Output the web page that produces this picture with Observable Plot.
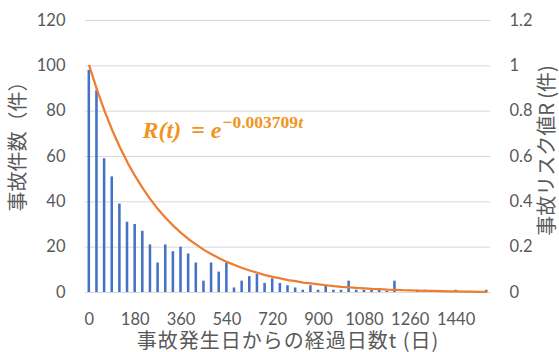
<!DOCTYPE html>
<html>
<head>
<meta charset="utf-8">
<script src="https://cdn.jsdelivr.net/npm/d3@7"></script>
<script src="https://cdn.jsdelivr.net/npm/@observablehq/plot@0.6"></script>
<style>
  html, body { margin: 0; padding: 0; background: #fff; }
  #chart { width: 559px; height: 352px; }
</style>
</head>
<body>
<div id="chart"></div>
<script>
// Elapsed days since the accident (category axis, every 30 days)
const days = [0,30,60,90,120,150,180,210,240,270,300,330,360,390,420,450,480,510,540,570,
  600,630,660,690,720,750,780,810,840,870,900,930,960,990,1020,1050,1080,1110,1140,1170,
  1200,1230,1260,1290,1320,1350,1380,1410,1440,1470,1500,1530,1560];
// Number of accidents (件) per bin
const counts = [98,89,59,51,39,31,30,27,21,13,21,18,20,17,13,5,13,9,13,2,
  5,7,8,4,6,4,3,2,1,3,1,3,1,1,5,1,1,1,1,0.5,
  5,0,0,1,1,0,0,0,1,0,0,0,1];
// Accident risk value R
const riskR = [1,0.895,0.800,0.716,0.641,0.573,0.513,0.459,0.411,0.367,0.329,0.294,0.263,0.235,0.211,0.188,0.169,0.151,0.135,0.121,
  0.108,0.097,0.087,0.077,0.069,0.062,0.055,0.050,0.044,0.040,0.036,0.032,0.028,0.025,0.023,0.020,0.018,0.016,0.015,0.013,
  0.012,0.010,0.009,0.008,0.007,0.007,0.006,0.005,0.005,0.004,0.004,0.003,0.003];
const xTicks = [0,180,360,540,720,900,1080,1260,1440];
const leftTicks = [0,20,40,60,80,100,120];
const rightTicks = [0,0.2,0.4,0.6,0.8,1,1.2];
const rightTickLabels = ["0","0.2","0.4","0.6","0.8","1","1.2"];
const xTitle = "事故発生日からの経過日数t (日)";
const leftTitle = "事故件数（件）";
const rightTitle = "事故リスク値R (件)";
const eqParts = ["R(t)", "=", "e", "−0.003709", "t"];

const RSCALE = 100; // right axis 1.2 ↔ left axis 120
const bars = days.map((t, i) => ({t, n: counts[i]}));
const curve = days.map((t, i) => ({t, r: riskR[i]}));
const rTickData = rightTicks.map((r, i) => ({r, label: rightTickLabels[i]}));
const eqText = eqParts.join("");

const gray = "#595959";
const cjk = "'Noto Sans CJK JP', 'Noto Sans', sans-serif";
const eqColor = "#F29420";

const plot = Plot.plot({
  width: 559,
  height: 352,
  marginLeft: 85,
  marginRight: 69,
  marginTop: 20,
  marginBottom: 60,
  style: {fontFamily: "Lato, sans-serif", fontSize: "16.5px", color: gray, background: "#fff"},
  x: {domain: [-15, 1575], ticks: xTicks, tickSize: 0, tickPadding: 21, label: null, tickFormat: d => String(d)},
  y: {domain: [0, 120], ticks: leftTicks, tickSize: 0, tickPadding: 20, label: null, tickFormat: d => String(d)},
  marks: [
    Plot.ruleY(leftTicks, {stroke: "#D9D9D9", strokeWidth: 1}),
    Plot.rectY(bars, {x1: d => d.t - 5, x2: d => d.t + 5, y: "n", fill: "#4472C4"}),
    Plot.line(curve, {x: "t", y: d => d.r * RSCALE, stroke: "#ED7D31", strokeWidth: 2.25}),
    Plot.text(rTickData, {y: d => d.r * RSCALE, text: "label", frameAnchor: "right", textAnchor: "start", dx: 19, fontSize: 16.5, fill: gray}),
    Plot.text([leftTitle], {frameAnchor: "left", textAnchor: "middle", lineAnchor: "middle", rotate: -90, dx: -67, dy: -15, fontFamily: cjk, fontSize: 20, fill: gray}),
    Plot.text([rightTitle], {frameAnchor: "right", textAnchor: "middle", lineAnchor: "middle", rotate: -90, dx: 57, dy: -6, fontFamily: cjk, fontSize: 20, fill: gray}),
    Plot.text([xTitle], {frameAnchor: "bottom", textAnchor: "middle", lineAnchor: "middle", dy: 49, fontFamily: cjk, fontSize: 20, fill: gray, style: "letter-spacing:1px"}),
    Plot.text([eqText], {frameAnchor: "top-left", dx: 57, dy: 100, textAnchor: "start", lineAnchor: "top", fontFamily: "'Liberation Serif', serif", fontWeight: "bold", fontSize: 24, fill: eqColor})
  ]
});

const svgNS = "http://www.w3.org/2000/svg";
plot.querySelectorAll("text").forEach(el => {
  // x-axis title letter spacing
  if (el.textContent === xTitle) el.setAttribute("letter-spacing", "1");
  // rebuild the equation with italics and a superscript exponent
  if (el.textContent === eqText) {
    el.textContent = "";
    const spec = [
      {s: eqParts[0], italic: true},
      {s: eqParts[1], dx: 10},
      {s: eqParts[2], italic: true, dx: 6},
      {s: eqParts[3], dx: 1, dy: -10, size: 17.5},
      {s: eqParts[4], italic: true, size: 17.5}
    ];
    spec.forEach(p => {
      const ts = document.createElementNS(svgNS, "tspan");
      if (p.dx) ts.setAttribute("dx", p.dx);
      if (p.dy) ts.setAttribute("dy", p.dy);
      if (p.size) ts.setAttribute("font-size", p.size);
      ts.setAttribute("font-style", p.italic ? "italic" : "normal");
      ts.textContent = p.s;
      el.appendChild(ts);
    });
  }
});

document.getElementById("chart").appendChild(plot);
</script>
</body>
</html>
